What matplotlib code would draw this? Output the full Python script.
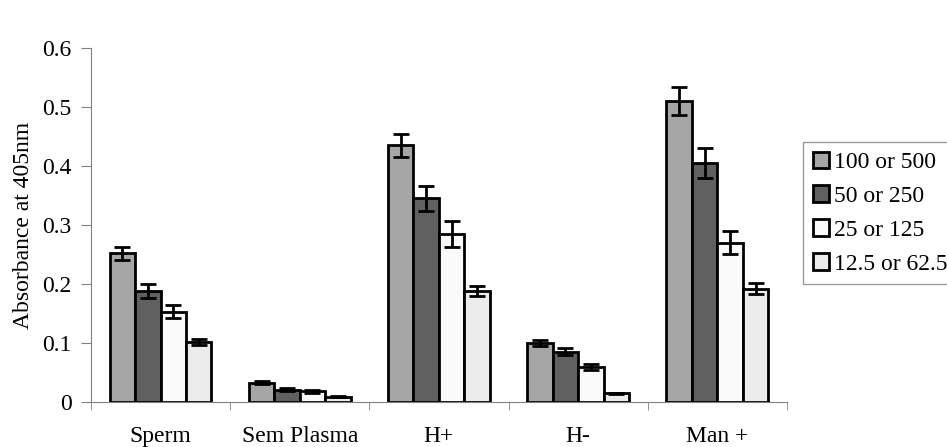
import numpy as np
import matplotlib.pyplot as plt
from matplotlib.ticker import FixedLocator

plt.rcParams['font.family'] = ['Liberation Serif', 'DejaVu Serif']

categories = ['Sperm', 'Sem Plasma', 'H+', 'H-', 'Man +']
series = ['100 or 500', '50 or 250', '25 or 125', '12.5 or 62.5']
values = [
    [0.252, 0.033, 0.435, 0.100, 0.510],
    [0.188, 0.021, 0.345, 0.085, 0.405],
    [0.153, 0.018, 0.285, 0.060, 0.270],
    [0.101, 0.009, 0.188, 0.015, 0.192],
]
errors = [
    [0.011, 0.002, 0.020, 0.005, 0.024],
    [0.012, 0.002, 0.021, 0.006, 0.026],
    [0.011, 0.002, 0.022, 0.005, 0.020],
    [0.005, 0.001, 0.009, 0.001, 0.009],
]
colors = ['#a6a6a6', '#606060', '#fafafa', '#ececec']

fig = plt.figure(figsize=(9.47, 4.47), dpi=100)
ax = fig.add_axes([0.096, 0.1007, 0.735, 0.792])

x = np.arange(len(categories))
w = 0.183
for i, (s, v, e, c) in enumerate(zip(series, values, errors, colors)):
    ax.bar(x + (i - 1.5) * w, v, w, yerr=e, color=c, edgecolor='black',
           linewidth=2, label=s,
           error_kw=dict(ecolor='black', elinewidth=2, capsize=6, capthick=2))

ax.set_xlim(-0.5, len(categories) - 0.5)
ax.set_ylim(0, 0.6)
ax.set_yticks([0, 0.1, 0.2, 0.3, 0.4, 0.5, 0.6])
ax.set_yticklabels(['0', '0.1', '0.2', '0.3', '0.4', '0.5', '0.6'])
ax.set_xticks(x)
ax.set_xticklabels(categories)
ax.xaxis.set_minor_locator(FixedLocator(np.arange(-0.5, len(categories), 1.0)))
ax.tick_params(axis='x', which='major', length=0, pad=17, labelsize=17)
ax.tick_params(axis='x', which='minor', length=6, color='#808080', direction='out')
ax.tick_params(axis='y', length=7, color='#808080', labelsize=17, pad=7)
ax.set_ylabel('Absorbance at 405nm', fontsize=17, labelpad=6)

for sp in ['top', 'right']:
    ax.spines[sp].set_visible(False)
for sp in ['left', 'bottom']:
    ax.spines[sp].set_color('#808080')

leg = fig.legend(loc='upper left', bbox_to_anchor=(0.848, 0.682), fontsize=17,
                 frameon=True, fancybox=False, edgecolor='#808080',
                 handlelength=0.7, handleheight=0.7, handletextpad=0.2,
                 labelspacing=0.52, borderpad=0.4, borderaxespad=0)
leg.get_frame().set_linewidth(1)

fig.savefig('out.png', dpi=100)
